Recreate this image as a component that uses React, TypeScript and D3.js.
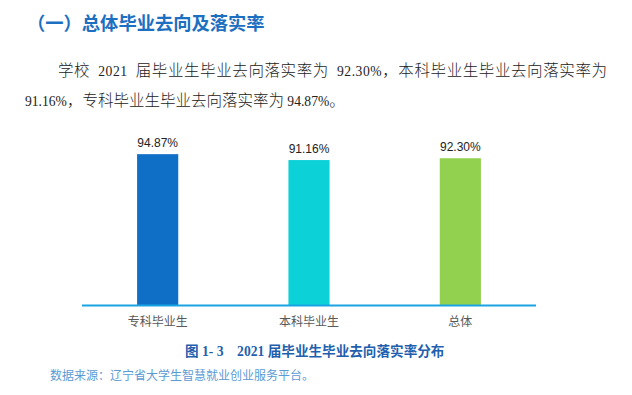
import React, { useRef, useEffect } from 'react';
import * as d3 from 'd3';

const categories = ['专科毕业生', '本科毕业生', '总体'];
const rates = [94.87, 91.16, 92.3];
const barColors = ['#0f6fc6', '#0cd2d8', '#92d050'];

const title = '（一）总体毕业去向及落实率';
const caption = '图 1- 3    2021 届毕业生毕业去向落实率分布';
const source = '数据来源：辽宁省大学生智慧就业创业服务平台。';

const fmt = (v: number) => `${v.toFixed(2)}%`;

const App: React.FC = () => {
  const ref = useRef<SVGSVGElement | null>(null);

  useEffect(() => {
    if (!ref.current) return;
    const width = 632;
    const height = 395;
    const svg = d3.select(ref.current);
    svg.attr('width', width).attr('height', height);
    svg.selectAll('*').remove();

    const cjk = '"Noto Sans CJK SC", sans-serif';
    const serif = '"Liberation Serif", "Noto Sans CJK SC", serif';

    // heading
    svg.append('text')
      .attr('x', 27).attr('y', 30)
      .attr('font-family', cjk).attr('font-size', 18.3).attr('font-weight', 'bold')
      .attr('fill', '#1c6fc1')
      .text(title);

    // paragraph, numbers come from the data
    const line1: [string, boolean][] = [
      ['学校  ', false], ['2021', true], ['  届毕业生毕业去向落实率为  ', false],
      [fmt(rates[2]), true], ['，本科毕业生毕业去向落实率为', false],
    ];
    const line2: [string, boolean][] = [
      [fmt(rates[1]), true], ['，专科毕业生毕业去向落实率为 ', false],
      [fmt(rates[0]), true], ['。', false],
    ];
    const para = (segs: [string, boolean][], x: number, y: number, len?: number) => {
      const t = svg.append('text')
        .attr('x', x).attr('y', y)
        .attr('font-family', serif).attr('font-size', 16)
        .attr('fill', '#222')
        .style('white-space', 'pre');
      if (len) t.attr('textLength', len).attr('lengthAdjust', 'spacing');
      segs.forEach(([s, num]) => {
        t.append('tspan')
          .attr('font-size', num ? 13.6 : 15.5)
          .attr('font-family', num ? '"Liberation Serif", serif' : cjk)
          .attr('font-weight', num ? 'normal' : 300)
          .text(s);
      });
    };
    para(line1, 58, 76, 549);
    para(line2, 25, 106);

    // chart
    const margin = { left: 82, right: 96, top: 146, bottom: 90 };
    const x = d3.scaleBand<string>()
      .domain(categories)
      .range([margin.left, width - margin.right])
      .paddingInner(0.728)
      .paddingOuter(0.364);
    const y = d3.scaleLinear()
      .domain([0, 100])
      .range([height - margin.bottom, margin.top]);

    const base = y(0);

    svg.selectAll('.bar')
      .data(rates)
      .enter()
      .append('rect')
      .attr('class', 'bar')
      .attr('x', (_, i) => x(categories[i])!)
      .attr('y', d => y(d))
      .attr('width', x.bandwidth())
      .attr('height', d => base - y(d))
      .attr('fill', (_, i) => barColors[i]);

    svg.append('line')
      .attr('x1', margin.left).attr('x2', width - margin.right)
      .attr('y1', base + 0.5).attr('y2', base + 0.5)
      .attr('stroke', '#1aa3e2').attr('stroke-width', 2);

    svg.selectAll('.val')
      .data(rates)
      .enter()
      .append('text')
      .attr('class', 'val')
      .attr('x', (_, i) => x(categories[i])! + x.bandwidth() / 2)
      .attr('y', d => y(d) - 7)
      .attr('text-anchor', 'middle')
      .attr('font-family', '"Liberation Sans", sans-serif')
      .attr('font-size', 12)
      .attr('fill', '#222')
      .text(d => fmt(d));

    svg.selectAll('.cat')
      .data(categories)
      .enter()
      .append('text')
      .attr('class', 'cat')
      .attr('x', d => x(d)! + x.bandwidth() / 2)
      .attr('y', base + 21)
      .attr('text-anchor', 'middle')
      .attr('font-family', cjk)
      .attr('font-size', 12)
      .attr('fill', '#595959')
      .text(d => d);

    svg.append('text')
      .attr('x', 185).attr('y', 356)
      .attr('font-family', '"Liberation Serif", "Noto Sans CJK SC", serif')
      .attr('font-size', 13.6).attr('font-weight', 'bold')
      .attr('fill', '#1f5fae')
      .style('white-space', 'pre')
      .text(caption);

    svg.append('text')
      .attr('x', 50).attr('y', 380)
      .attr('font-family', cjk).attr('font-size', 12)
      .attr('fill', '#5b9bd5')
      .text(source);
  }, []);

  return <svg ref={ref} style={{ position: 'absolute', left: 0, top: 0 }}></svg>;
};

export default App;
